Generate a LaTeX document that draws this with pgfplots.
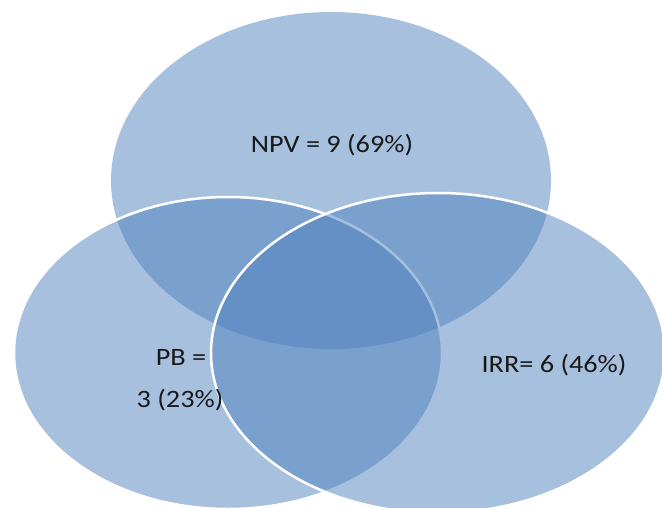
\documentclass[border=0pt]{standalone}
\usepackage{pgfplots}
\pgfplotsset{compat=1.18}
\usepackage{graphicx}
\usepackage{fontspec}
\setmainfont{Carlito}
\definecolor{vennblue}{RGB}{79,129,189}
\definecolor{txt}{RGB}{25,25,25}
\begin{document}
\begin{tikzpicture}
\begin{axis}[
  width=662pt, height=507pt, scale only axis,
  xmin=0, xmax=662, ymin=0, ymax=507,
  y dir=reverse,
  hide axis, clip=true,
]
% NPV (top)
\fill[vennblue, fill opacity=0.5] (axis cs:331,180.5) ellipse [x radius=220, y radius=168.5];
% PB (left)
\filldraw[fill=vennblue, fill opacity=0.5, draw=white, line width=2.5pt] (axis cs:228,353) ellipse [x radius=214, y radius=156];
% IRR (right)
\filldraw[fill=vennblue, fill opacity=0.5, draw=white, line width=2.5pt] (axis cs:438,353) ellipse [x radius=227, y radius=160];
\node[txt, font=\fontsize{25}{30}\selectfont] at (axis cs:332,145) {\scalebox{1.13}[1]{NPV = 9 (69\%)}};
\node[txt, font=\fontsize{25}{30}\selectfont] at (axis cs:181,357) {\scalebox{1.13}[1]{PB =}};
\node[txt, font=\fontsize{25}{30}\selectfont] at (axis cs:180,400) {\scalebox{1.13}[1]{3 (23\%)}};
\node[txt, font=\fontsize{25}{30}\selectfont] at (axis cs:554,365) {\scalebox{1.13}[1]{IRR= 6 (46\%)}};
\end{axis}
\pgfresetboundingbox
\path[use as bounding box] (current axis.south west) rectangle (current axis.north east);
\end{tikzpicture}
\end{document}
